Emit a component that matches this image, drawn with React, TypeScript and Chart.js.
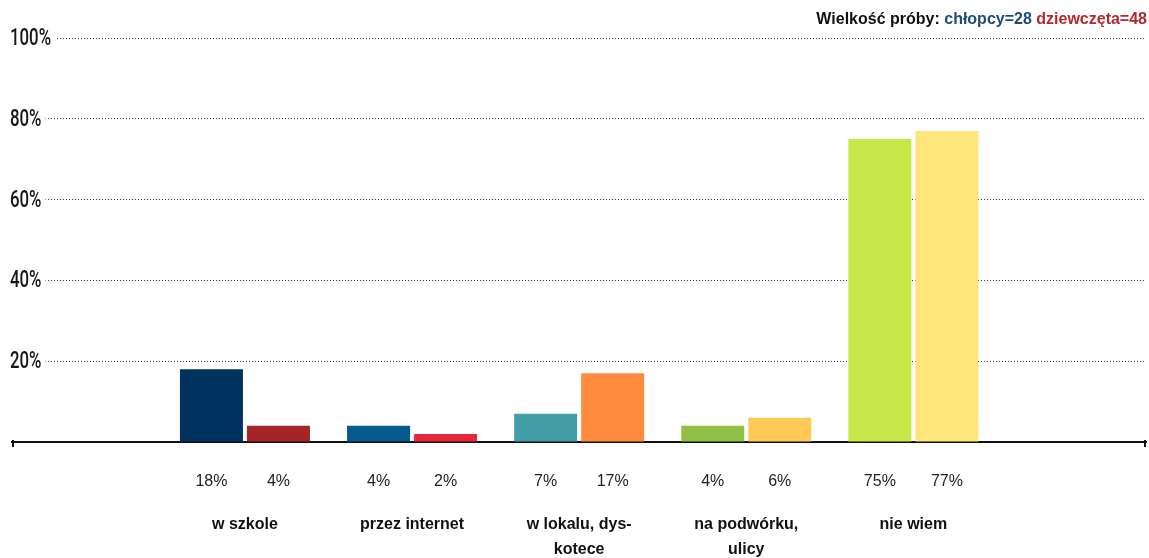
import React, { useEffect, useRef } from "react";
import { Chart, registerables } from "chart.js";

Chart.register(...registerables);

const categories: string[][] = [
  ["w szkole"],
  ["przez internet"],
  ["w lokalu, dys-", "kotece"],
  ["na podwórku,", "ulicy"],
  ["nie wiem"],
];
const boysValues = [18, 4, 7, 4, 75];
const girlsValues = [4, 2, 17, 6, 77];
const boysColors = ["#00325f", "#055a8e", "#449ea8", "#8fc144", "#c8e84a"];
const girlsColors = ["#a52428", "#e8283a", "#ff8c3e", "#ffc955", "#ffe57a"];
const yTicks = [0, 20, 40, 60, 80, 100];
const titleParts = [
  { text: "Wielkość próby: ", color: "#111111" },
  { text: "chłopcy=28", color: "#1d4b7a" },
  { text: " ", color: "#111111" },
  { text: "dziewczęta=48", color: "#b0282c" },
];

const overlayPlugin = {
  id: "overlay",
  afterDraw(chart: any) {
    const { ctx, chartArea } = chart;
    const yScale = chart.scales.y;
    ctx.save();
    // y labels (condensed)
    ctx.textBaseline = "middle";
    ctx.textAlign = "left";
    ctx.font = "500 24px Roboto, 'Liberation Sans', sans-serif";
    for (const v of yTicks) {
      if (v === 0) continue;
      const py = yScale.getPixelForValue(v);
      const label = v + "%";
      const sx = 0.7;
      const w = ctx.measureText(label).width * sx;
      ctx.fillStyle = "#ffffff";
      ctx.fillRect(chartArea.left - 3, py - 13, w + 5, 26);
      ctx.save();
      ctx.translate(chartArea.left - 2, py + 1);
      ctx.scale(sx, 1);
      ctx.fillStyle = "#161616";
      ctx.fillText(label, 0, 0);
      ctx.restore();
    }
    // title
    ctx.font = "bold 16px 'Liberation Sans', Arial, sans-serif";
    ctx.textBaseline = "middle";
    ctx.textAlign = "left";
    const total = titleParts.reduce((s, p) => s + ctx.measureText(p.text).width, 0);
    let x = 1147 - total;
    for (const p of titleParts) {
      ctx.fillStyle = p.color;
      ctx.fillText(p.text, x, 20);
      x += ctx.measureText(p.text).width;
    }
    // axis end ticks
    ctx.strokeStyle = "#111";
    ctx.lineWidth = 2;
    ctx.beginPath();
    ctx.moveTo(chartArea.left + 1, chartArea.bottom - 2);
    ctx.lineTo(chartArea.left + 1, chartArea.bottom + 5);
    ctx.moveTo(chartArea.right - 1, chartArea.bottom - 2);
    ctx.lineTo(chartArea.right - 1, chartArea.bottom + 5);
    ctx.stroke();
    // value labels below bars
    ctx.font = "16px 'Liberation Sans', Arial, sans-serif";
    ctx.fillStyle = "#222";
    ctx.textAlign = "center";
    chart.data.datasets.forEach((ds: any, di: number) => {
      const meta = chart.getDatasetMeta(di);
      meta.data.forEach((bar: any, i: number) => {
        ctx.fillText(ds.data[i].y + "%", bar.x, 482);
      });
    });
    ctx.restore();
  },
};

export default function App() {
  const ref = useRef<HTMLCanvasElement>(null);
  useEffect(() => {
    if (!ref.current) return;
    const chart = new Chart(ref.current, {
      type: "bar",
      data: {
        datasets: [
          {
            label: "chłopcy",
            data: boysValues.map((v, i) => ({ x: i, y: v })),
            backgroundColor: boysColors,
            categoryPercentage: 0.802,
            barPercentage: 0.94,
          },
          {
            label: "dziewczęta",
            data: girlsValues.map((v, i) => ({ x: i, y: v })),
            backgroundColor: girlsColors,
            categoryPercentage: 0.802,
            barPercentage: 0.94,
          },
        ],
      },
      options: {
        animation: false,
        responsive: false,
        maintainAspectRatio: false,
        layout: { padding: { top: 38, left: 12, right: 3, bottom: 0 } },
        plugins: { legend: { display: false }, tooltip: { enabled: false }, title: { display: false } },
        scales: {
          x: {
            type: "linear",
            offset: false,
            min: -1.394,
            max: 5.392,
            grid: { display: false, drawTicks: false, offset: false },
            border: { display: true, color: "#111", width: 2 },
            afterBuildTicks: (scale: any) => {
              scale.ticks = categories.map((_, i) => ({ value: i }));
            },
            afterFit: (scale: any) => {
              scale.height = 116;
            },
            ticks: {
              autoSkip: false,
              maxRotation: 0,
              padding: 70,
              color: "#111",
              font: { family: "'Liberation Sans', Arial, sans-serif", size: 16, weight: "bold", lineHeight: "25px" } as any,
              callback: (v: any) => categories[v as number] ?? "",
            },
          },
          y: {
            min: 0,
            max: 100,
            afterBuildTicks: (scale: any) => {
              scale.ticks = yTicks.map((v) => ({ value: v }));
            },
            afterFit: (scale: any) => {
              scale.width = 0;
            },
            grid: {
              drawTicks: false,
              color: (c: any) => (c.tick && c.tick.value === 0 ? "rgba(0,0,0,0)" : "#333"),
              lineWidth: 1,
            },
            border: { display: false, dash: [1, 2] },
            ticks: { display: false },
          },
        },
      },
      plugins: [overlayPlugin],
    } as any);
    return () => chart.destroy();
  }, []);
  return (
    <div style={{ position: "fixed", left: 0, top: 0, width: 1149, height: 558, background: "#fff" }}>
      <canvas ref={ref} width={1149} height={558} style={{ width: 1149, height: 558 }} />
    </div>
  );
}
